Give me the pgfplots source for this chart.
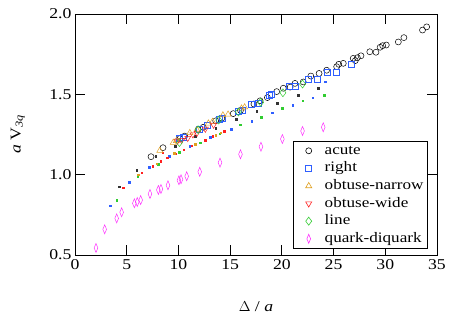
\documentclass[border=0pt]{standalone}
\usepackage{fontspec}
\setmainfont[FakeStretch=1.18]{Liberation Serif}
\usepackage{pgfplots}
\pgfplotsset{compat=1.18}
\definecolor{cblue}{HTML}{2F5FFF}
\definecolor{corange}{HTML}{E0A020}
\definecolor{cred}{HTML}{FF2020}
\definecolor{cgreen}{HTML}{30CC30}
\definecolor{cmag}{HTML}{FF30FF}
\begin{document}
\begin{tikzpicture}
\begin{axis}[
  scale only axis, width=362pt, height=241pt,
  xmin=0, xmax=35, ymin=0.5, ymax=2.0,
  xtick={0,5,...,35}, ytick={0.5,1.0,1.5,2.0},
  yticklabel style={/pgf/number format/.cd,fixed,fixed zerofill,precision=1},
  /pgf/number format/assume math mode=true,
  tick align=inside, major tick length=10pt,
  xtick pos=both, ytick pos=both,
  tick style={black, line width=0.8pt},
  axis line style={line width=0.8pt},
  every tick label/.append style={font=\fontsize{15}{17}\selectfont},
  xticklabel style={yshift=-1pt},
  xlabel={$\Delta$ / \textit{a}}, ylabel={\textit{a} V\textsubscript{\textit{3q}}},
  label style={font=\fontsize{15}{17}\selectfont},
  xlabel style={at={(axis description cs:0.5,-0.213)}, anchor=center},
  ylabel style={at={(axis description cs:-0.158,0.5)}, anchor=center},
  legend style={at={(0.975,0.025)}, anchor=south east, draw=black, line width=0.8pt,
    font=\fontsize{14.5}{17}\selectfont, row sep=0pt, inner sep=1pt,
    nodes={text height=10.5pt, text depth=3.5pt, inner ysep=1.8pt, inner xsep=3pt}},
  legend cell align=left,
  legend image code/.code={\draw[#1,line width=0.6pt] plot coordinates {(14pt,0pt)};\path[draw=none] (0pt,0pt) -- (27pt,0pt);},
]
% small dots (not in legend)
\addplot[only marks, mark=square*, mark size=0.8pt, black!80, forget plot] coordinates {
(4.28,0.925)(5.96,1.029)(7.8,1.115)(9.67,1.178)(11.6,1.238)(13.6,1.29)(15.6,1.344)(17.57,1.396)(19.56,1.444)(21.6,1.494)(23.5,1.537)};
\addplot[only marks, mark=square*, mark size=0.8pt, cblue, forget plot] coordinates {
(3.38,0.807)(5.25,0.952)(7.18,1.046)(9.12,1.116)(11.1,1.178)(13.1,1.234)(15.08,1.282)(17.08,1.334)(19.08,1.386)(21.05,1.434)(23.0,1.479)(24.2,1.579)};
\addplot[only marks, mark=square*, mark size=0.8pt, cgreen, forget plot] coordinates {
(4.03,0.842)(6.06,0.987)(8.06,1.065)(10.05,1.139)(12.09,1.2)(14.0,1.255)(16.0,1.31)(18.0,1.357)(20.05,1.413)(22.0,1.46)(24.1,1.496)};
\addplot[only marks, mark=square*, mark size=0.8pt, cred, forget plot] coordinates {
(4.67,0.919)(6.45,1.012)(7.51,1.054)(8.3,1.085)(8.9,1.106)(9.7,1.13)(10.5,1.155)(11.3,1.18)(12.6,1.215)(13.3,1.24)(14.4,1.27)(8.48,1.137)};
\addplot[only marks, mark=square*, mark size=0.8pt, corange, forget plot] coordinates {
(6.12,1.0)(7.9,1.068)(9.6,1.133)(11.6,1.19)(13.6,1.245)(14.1,1.26)};
% large markers
\addplot[only marks, mark=o, mark size=3pt, black, line width=0.5pt] coordinates {
(7.35,1.112)(8.51,1.168)(10.15,1.225)(10.6,1.24)(11.9,1.28)(12.4,1.295)(13.6,1.335)(14.2,1.352)(15.3,1.38)(16.0,1.40)(17.3,1.44)(17.9,1.46)(18.6,1.48)(19.5,1.517)(20.14,1.538)(20.8,1.545)(21.27,1.568)(22.07,1.577)(22.8,1.614)(23.6,1.63)(24.33,1.65)(25.3,1.672)(25.5,1.687)(25.94,1.693)(26.9,1.724)(27.1,1.71)(27.3,1.728)(27.65,1.74)(28.5,1.765)(29.1,1.762)(29.5,1.793)(29.75,1.803)(30.1,1.807)(31.26,1.826)(31.8,1.853)(33.6,1.90)(34.0,1.92)};
\addlegendentry{acute}
\addplot[only marks, mark=square, mark size=3pt, cblue, mark options={draw=cblue}, line width=0.5pt] coordinates {
(10.1,1.225)(10.5,1.235)(12.0,1.28)(12.8,1.31)(13.9,1.345)(14.2,1.35)(15.8,1.395)(16.2,1.40)(17.08,1.44)(17.7,1.445)(18.8,1.496)(19.0,1.50)(20.7,1.548)(21.27,1.552)(22.56,1.594)(23.4,1.594)(24.4,1.64)(25.3,1.637)(26.75,1.687)};
\addlegendentry{right}
\addplot[only marks, mark=triangle, mark size=3.5pt, corange, line width=0.5pt] coordinates {
(8.2,1.15)(9.5,1.2)(9.8,1.21)(11.1,1.26)(11.8,1.278)(12.9,1.32)(13.3,1.33)(14.3,1.37)(14.8,1.375)(16.1,1.413)(16.4,1.42)};
\addlegendentry{obtuse-narrow}
\addplot[only marks, mark=triangle, mark options={rotate=180}, mark size=3.5pt, cred, line width=0.5pt] coordinates {
(9.9,1.21)(10.3,1.215)(10.9,1.228)(11.4,1.25)(11.8,1.26)(12.6,1.285)(13.4,1.31)};
\addlegendentry{obtuse-wide}
\addplot[only marks, mark=diamond, mark size=4pt, cgreen, line width=0.5pt] coordinates {
(10.1,1.2)(11.9,1.28)(13.9,1.34)(15.8,1.39)(17.95,1.45)(20.1,1.51)(22.0,1.564)};
\addlegendentry{line}
\addplot[only marks, mark=diamond, mark size=4.5pt, mark options={xscale=0.55}, cmag, line width=0.5pt] coordinates {
(2.03,0.544)(2.87,0.66)(4.03,0.728)(4.51,0.766)(5.74,0.822)(6.02,0.83)(6.35,0.842)(7.25,0.88)(8.06,0.905)(8.31,0.911)(8.99,0.934)(10.05,0.965)(10.25,0.971)(10.8,0.99)(12.06,1.018)(14.02,1.075)(16.0,1.127)(17.98,1.174)(20.05,1.222)(22.0,1.272)(24.0,1.295)};
\addlegendentry{quark-diquark}
\end{axis}
\pgfresetboundingbox
\path[use as bounding box] (-75pt,-62pt) rectangle (377pt,255pt);
\end{tikzpicture}
\end{document}
